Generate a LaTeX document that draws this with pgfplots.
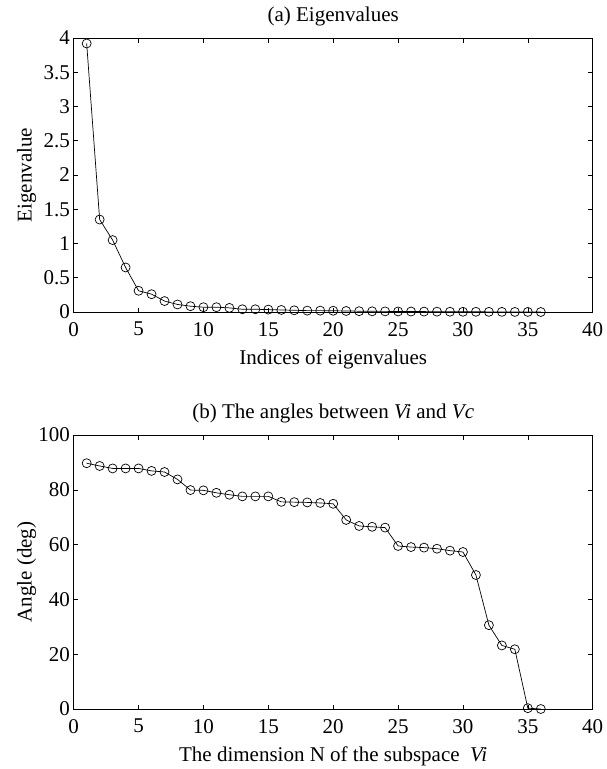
\documentclass[border=0pt]{standalone}
\usepackage{fontspec}
\setmainfont{Liberation Serif}
\usepackage{pgfplots}
\pgfplotsset{compat=1.18}
\pgfplotsset{
  myaxis/.style={
    scale only axis, width=519pt, height=274pt,
    xmin=0, xmax=40, xtick={0,5,...,40},
    font=\fontsize{21}{25}\selectfont,
    /pgf/number format/assume math mode=true,
    tick align=inside, major tick length=4.5pt,
    axis line style={line width=0.8pt},
    every tick/.style={black, line width=0.6pt},
    clip=false,
    xticklabel style={inner sep=0pt, yshift=-10pt},
    yticklabel style={inner sep=0pt, xshift=-3.5pt},
    title style={at={(axis description cs:0.5,1.04)}, anchor=base, inner sep=0pt},
    xlabel style={at={(axis description cs:0.5,-0.193)}, anchor=base, inner sep=0pt},
    ylabel style={at={(axis description cs:-0.081,0.5)}, anchor=base, inner sep=0pt},
  },
  mystyle/.style={black, line width=0.7pt, mark=o, mark size=4.5pt, mark options={line width=0.7pt}},
}
\begin{document}
\begin{tikzpicture}
\path[use as bounding box] (-73.7pt,312pt) rectangle (533.3pt,-457pt);
\begin{axis}[myaxis, at={(0pt,0pt)}, anchor=south west,
  ymin=0, ymax=4, ytick={0,0.5,...,4},
  title={(a) Eigenvalues}, xlabel={Indices of eigenvalues}, ylabel={Eigenvalue}]
\addplot[mystyle] coordinates {
(1,3.92) (2,1.35) (3,1.05) (4,0.65) (5,0.31) (6,0.26) (7,0.16) (8,0.11) (9,0.085) (10,0.07)
(11,0.07) (12,0.06) (13,0.04) (14,0.04) (15,0.035) (16,0.03) (17,0.025) (18,0.02) (19,0.02) (20,0.018)
(21,0.015) (22,0.012) (23,0.01) (24,0.009) (25,0.008) (26,0.007) (27,0.006) (28,0.005) (29,0.004) (30,0.003)
(31,0.003) (32,0.002) (33,0.002) (34,0.001) (35,0.001) (36,0.0)
};
\end{axis}
\begin{axis}[myaxis, at={(0pt,-397pt)}, anchor=south west,
  ymin=0, ymax=100, ytick={0,20,...,100},
  title={(b) The angles between \textit{Vi} and \textit{Vc}},
  xlabel={The dimension N of the subspace\ \ \textit{Vi}}, ylabel={Angle (deg)}]
\addplot[mystyle] coordinates {
(1,89.7) (2,88.7) (3,87.8) (4,87.8) (5,87.8) (6,86.9) (7,86.5) (8,83.8) (9,79.9) (10,79.8)
(11,78.9) (12,78.2) (13,77.6) (14,77.6) (15,77.6) (16,75.6) (17,75.5) (18,75.4) (19,75.2) (20,74.9)
(21,69.0) (22,66.8) (23,66.5) (24,66.2) (25,59.5) (26,59.1) (27,58.9) (28,58.5) (29,57.8) (30,57.3)
(31,48.9) (32,30.6) (33,23.2) (34,21.8) (35,0.3) (36,0.0)
};
\end{axis}
\end{tikzpicture}
\end{document}
